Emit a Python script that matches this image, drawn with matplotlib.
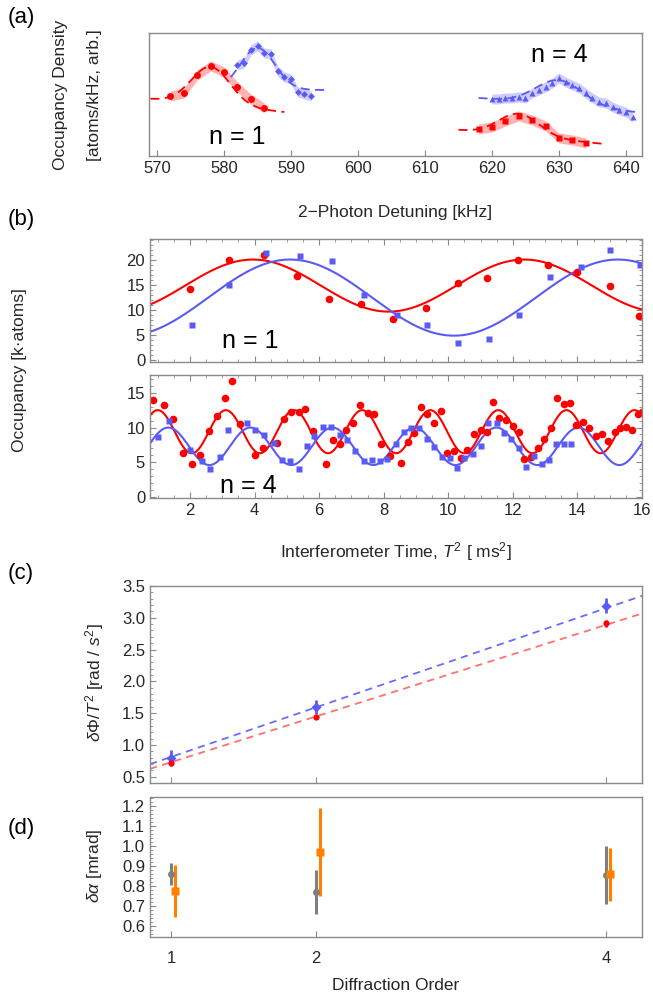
import numpy as np
import matplotlib.pyplot as plt
from matplotlib.ticker import MultipleLocator, NullFormatter

plt.rcParams['font.family'] = ['Liberation Sans', 'DejaVu Sans']
plt.rcParams['mathtext.fontset'] = 'custom'
plt.rcParams['mathtext.rm'] = 'Liberation Sans'
plt.rcParams['mathtext.it'] = 'Liberation Sans:italic'
plt.rcParams['mathtext.bf'] = 'Liberation Sans:bold'

RED = '#ff0000'
BLUE = '#5a5af5'
GRAY = '#7f7f7f'
ORANGE = '#ff8000'
FRAME = '#8a8a8a'
TXT = '#262626'

# ---- (a) spectroscopy, arbitrary units ----
a_red1_x = [572, 574, 576, 578, 580, 582, 584, 586]
a_red1_y = [60, 63, 81, 90, 84, 69, 57, 48]
a_blue1_x = [582, 583, 584, 585, 586, 587, 588, 589, 590, 591, 592, 593]
a_blue1_y = [91, 93, 106, 110, 103, 102, 85, 79, 77, 64, 62, 60]
a_red4_x = [618, 620, 622, 624, 626, 628, 630, 632, 634]
a_red4_y = [27, 29, 35, 40, 36, 30, 18, 16, 13]
a_blue4_x = list(range(620, 642))
a_blue4_y = [57, 57, 58, 58, 59, 58, 63, 66, 69, 73, 78, 74, 71, 68, 63, 58, 54, 53, 49, 46, 44, 39]
a_band = 5
# gaussian + sloped baseline fits: (start, stop, center, sigma, amp, base, slope)
a_fit_red1 = (569, 589, 578, 2.9, 38, 57, -0.65)
a_fit_blue1 = (581, 595, 585, 2.6, 42, 66, 0.0)
a_fit_red4 = (615, 637, 624, 3.0, 22, 26, -0.64)
a_fit_blue4 = (618, 642, 630, 3.5, 25, 58, -0.6)

# ---- (b) fringes ----
b1_red_t = [2.0, 3.2, 4.3, 5.3, 6.3, 7.3, 8.3, 9.3, 10.3, 11.2, 12.15, 13.1, 14.0, 15.0, 15.9]
b1_red_y = [14.2, 19.9, 21.0, 16.7, 12.2, 11.2, 8.1, 10.4, 15.3, 16.3, 20.0, 18.9, 17.5, 14.7, 8.7]
b1_blue_t = [2.05, 3.2, 4.35, 5.4, 6.4, 7.4, 8.4, 9.35, 10.3, 11.25, 12.2, 13.15, 14.1, 15.0, 15.95]
b1_blue_y = [7.0, 14.9, 21.3, 20.8, 19.8, 13.0, 9.0, 6.9, 3.3, 4.2, 8.9, 16.5, 18.5, 22.0, 18.9]

b4_red_t = [0.84, 1.2, 1.48, 1.79, 2.05, 2.31, 2.59, 2.85, 3.07, 3.31, 3.55, 4.02, 4.26, 4.69,
            4.9, 5.14, 5.36, 5.57, 5.81, 6.21, 6.43, 6.66, 6.84, 7.05, 7.28, 7.5, 7.71, 7.92,
            8.19, 8.54, 8.75, 8.94, 9.14, 9.35, 9.56, 9.76, 9.97, 10.18, 10.39, 10.59, 10.8,
            11.0, 11.21, 11.39, 11.57, 11.78, 11.99, 12.2, 12.35, 12.56, 12.77, 12.97, 13.18,
            13.37, 13.58, 13.78, 13.96, 14.16, 14.37, 14.58, 14.76, 14.96, 15.15, 15.33, 15.51,
            15.69, 15.87, 16.0]
b4_red_y = [13.9, 13.2, 11.2, 6.3, 4.7, 6.0, 9.5, 11.6, 14.2, 16.7, 10.5, 6.0, 7.1, 7.8,
            11.3, 12.2, 12.2, 12.6, 9.5, 4.7, 8.2, 7.7, 9.6, 10.6, 13.3, 12.1, 12.0, 7.6,
            5.9, 4.9, 7.9, 9.2, 12.9, 12.0, 10.7, 12.4, 6.3, 6.6, 5.6, 6.8, 9.0,
            9.7, 9.4, 13.7, 11.4, 11.1, 10.2, 9.3, 5.5, 5.8, 7.1, 8.4, 9.9,
            14.2, 13.4, 13.6, 10.3, 10.8, 9.9, 8.8, 9.1, 8.0, 9.4, 10.0, 10.1,
            9.6, 12.0, 12.2]
b4_blue_t = [1.02, 1.36, 2.0, 2.36, 2.62, 2.93, 3.19, 3.76, 4.02, 4.3, 4.59, 4.85, 5.1, 5.36,
             5.62, 5.85, 6.12, 6.37, 6.63, 6.86, 7.12, 7.38, 7.64, 7.88, 8.11, 8.37, 8.62,
             8.85, 9.09, 9.35, 9.56, 9.82, 10.06, 10.28, 10.49, 10.75, 11.0, 11.23, 11.5,
             11.71, 11.94, 12.2, 12.4, 12.66, 12.89, 13.13, 13.33, 13.57, 13.8]
b4_blue_y = [8.7, 11.0, 6.7, 5.2, 4.0, 5.7, 9.7, 10.6, 9.7, 8.9, 7.8, 5.3, 5.2, 4.1,
             7.3, 8.8, 10.1, 10.1, 8.9, 8.2, 6.6, 5.2, 5.4, 5.2, 5.5, 7.7, 9.4,
             10.0, 9.9, 8.4, 7.2, 5.8, 5.6, 4.2, 5.6, 6.2, 7.3, 10.7, 10.7,
             9.2, 8.3, 7.0, 4.3, 5.9, 4.7, 5.3, 7.7, 7.7, 7.7]
# sinusoid fits: (mean, amplitude, period, t of peak)
b1_fit_red = (14.8, 5.2, 8.4, 3.95)
b1_fit_blue = (12.4, 7.6, 10.15, 5.1)
b4_fit_red = (9.4, 3.1, 2.11, 1.0)
b4_fit_blue = (7.3, 2.7, 2.54, 1.33)

# ---- (c) phase slope vs order ----
orders = [1, 2, 4]
c_red = [0.72, 1.44, 2.91]
c_red_err = [0.03, 0.03, 0.05]
c_blue = [0.79, 1.60, 3.19]
c_blue_err = [0.13, 0.11, 0.12]
c_fit_red = (0.72, 0.007)
c_fit_blue = (0.78, 0.03)

# ---- (d) delta alpha ----
d_gray = [0.86, 0.77, 0.855]
d_gray_err = [0.055, 0.11, 0.145]
d_orange = [0.775, 0.97, 0.86]
d_orange_err = [0.13, 0.22, 0.133]
d_offset = 0.03

W, H = 653, 996
fig = plt.figure(figsize=(W / 100, H / 100), dpi=100)


def box(l, t, r, b):
    return [l / W, 1 - b / H, (r - l) / W, (b - t) / H]


def style(ax, top=False, right=False):
    for s in ax.spines.values():
        s.set_color(FRAME)
        s.set_linewidth(1.0)
    ax.tick_params(which='both', direction='in', colors=FRAME, labelcolor=TXT,
                   labelsize=12, top=top, right=right)
    ax.tick_params(which='major', length=4, width=0.8)
    ax.tick_params(which='minor', length=2, width=0.6)


def gauss_fit(p):
    x0, x1, c, s, a, b, k = p
    x = np.linspace(x0, x1, 200)
    return x, b + k * (x - x0) + a * np.exp(-(x - c) ** 2 / (2 * s ** 2))


def cos_fit(p, t):
    m, a, per, t0 = p
    return m + a * np.cos(2 * np.pi * (t - t0) / per)


# (a)
ax = fig.add_axes(box(149, 33, 642, 156))
style(ax)
for xs, ys, fit, col, mk, ms, balpha in [
        (a_red1_x, a_red1_y, a_fit_red1, RED, 'o', 5, 0.3),
        (a_blue1_x, a_blue1_y, a_fit_blue1, BLUE, 'D', 3.5, 0.3),
        (a_red4_x, a_red4_y, a_fit_red4, RED, 's', 4.5, 0.3),
        (a_blue4_x, a_blue4_y, a_fit_blue4, BLUE, '^', 4, 0.3)]:
    xs = np.array(xs)
    ys = np.array(ys)
    ax.fill_between(xs, ys - a_band, ys + a_band, color=col, alpha=balpha, lw=0)
    fx, fy = gauss_fit(fit)
    ax.plot(fx, fy, ls=(0, (5, 3)), color=col, lw=1.3)
    ax.plot(xs, ys, mk, color=col, ms=ms, mec='none')
ax.set_xlim(568.8, 642.4)
ax.set_ylim(0, 123)
ax.set_yticks([])
ax.set_xticks(range(570, 641, 10))
ax.text(582, 19, 'n = 1', fontsize=18, ha='center', va='center', color='black')
ax.text(630, 101, 'n = 4', fontsize=18, ha='center', va='center', color='black')
ax.set_xlabel('2\u2212Photon Detuning [kHz]', fontsize=12.5, color=TXT, labelpad=21)
fig.text(61 / W, 1 - 95 / H, 'Occupancy Density', rotation=90, fontsize=12.5,
         color=TXT, ha='center', va='center')
fig.text(94 / W, 1 - 95 / H, '[atoms/kHz, arb.]', rotation=90, fontsize=12.5,
         color=TXT, ha='center', va='center')

# (b) top, n = 1
tt = np.linspace(0.76, 16, 600)
ax1 = fig.add_axes(box(150, 239, 642, 362))
style(ax1, top=True, right=True)
ax1.plot(tt, cos_fit(b1_fit_red, tt), color=RED, lw=1.5)
ax1.plot(tt, cos_fit(b1_fit_blue, tt), color=BLUE, lw=1.5)
ax1.plot(b1_red_t, b1_red_y, 'o', color=RED, ms=5.5, mec='none')
ax1.plot(b1_blue_t, b1_blue_y, 's', color=BLUE, ms=5, mec='none')
ax1.set_xlim(0.76, 16)
ax1.set_ylim(-0.46, 24.1)
ax1.set_yticks([0, 5, 10, 15, 20])
ax1.xaxis.set_major_locator(MultipleLocator(2))
ax1.xaxis.set_minor_locator(MultipleLocator(0.5))
ax1.yaxis.set_minor_locator(MultipleLocator(1))
ax1.xaxis.set_major_formatter(NullFormatter())
ax1.text(3.86, 3.7, 'n = 1', fontsize=18, ha='center', va='center', color='black')

# (b) bottom, n = 4
ax2 = fig.add_axes(box(150, 375, 642, 498))
style(ax2, top=True, right=True)
ax2.plot(tt, cos_fit(b4_fit_red, tt), color=RED, lw=1.5)
ax2.plot(tt, cos_fit(b4_fit_blue, tt), color=BLUE, lw=1.5)
ax2.plot(b4_red_t, b4_red_y, 'o', color=RED, ms=5.5, mec='none')
ax2.plot(b4_blue_t, b4_blue_y, 's', color=BLUE, ms=5, mec='none')
ax2.set_xlim(0.76, 16)
ax2.set_ylim(-0.14, 17.56)
ax2.set_yticks([0, 5, 10, 15])
ax2.xaxis.set_major_locator(MultipleLocator(2))
ax2.xaxis.set_minor_locator(MultipleLocator(0.5))
ax2.yaxis.set_minor_locator(MultipleLocator(1))
ax2.text(3.8, 1.6, 'n = 4', fontsize=18, ha='center', va='center', color='black')
ax2.set_xlabel('Interferometer Time, $T^2$ [ ms$^2$]', fontsize=12.5, color=TXT, labelpad=16)
fig.text(20 / W, 1 - 370 / H, 'Occupancy [k\u00b7atoms]', rotation=90, fontsize=12.5,
         color=TXT, ha='center', va='center')

# (c)
axc = fig.add_axes(box(150, 586, 642, 783))
style(axc)
xx = np.linspace(0.855, 4.25, 50)
axc.plot(xx, c_fit_red[0] * xx + c_fit_red[1], ls=(0, (4, 3)), color='#ff7070', lw=1.3)
axc.plot(xx, c_fit_blue[0] * xx + c_fit_blue[1], ls=(0, (4, 3)), color='#6b6bff', lw=1.3)
axc.errorbar(orders, c_blue, yerr=c_blue_err, fmt='D', color=BLUE, ms=5, mec='none',
             elinewidth=2, capsize=0)
axc.errorbar(orders, c_red, yerr=c_red_err, fmt='o', color=RED, ms=4.5, mec='none',
             elinewidth=2, capsize=0)
axc.set_xlim(0.855, 4.25)
axc.set_ylim(0.4, 3.5)
axc.set_xticks(orders)
axc.xaxis.set_major_formatter(NullFormatter())
axc.yaxis.set_major_locator(MultipleLocator(0.5))
axc.yaxis.set_minor_locator(MultipleLocator(0.1))
axc.yaxis.set_major_formatter(plt.FormatStrFormatter('%.1f'))
fig.text(95 / W, 1 - 683 / H, r'$\delta\Phi/T^2$ [rad / $s^2$]', rotation=90, fontsize=12.5,
         color=TXT, ha='center', va='center')

# (d)
axd = fig.add_axes(box(150, 797, 642, 937))
style(axd)
axd.errorbar(orders, d_gray, yerr=d_gray_err, fmt='o', color=GRAY, ms=5, mec='none',
             elinewidth=2.2, capsize=0)
axd.errorbar(np.array(orders) + d_offset, d_orange, yerr=d_orange_err, fmt='s', color=ORANGE,
             ms=6, mec='none', elinewidth=2.2, capsize=0)
axd.set_xlim(0.855, 4.25)
axd.set_ylim(0.547, 1.247)
axd.set_xticks(orders)
axd.yaxis.set_major_locator(MultipleLocator(0.1))
axd.yaxis.set_minor_locator(MultipleLocator(0.02))
axd.yaxis.set_major_formatter(plt.FormatStrFormatter('%.1f'))
axd.tick_params(axis='x', pad=10)
axd.set_xlabel('Diffraction Order', fontsize=12.5, color=TXT, labelpad=9)
fig.text(95 / W, 1 - 866 / H, r'$\delta\alpha$ [mrad]', rotation=90, fontsize=12.5,
         color=TXT, ha='center', va='center')

for lab, y in [('(a)', 17), ('(b)', 220), ('(c)', 573), ('(d)', 828)]:
    fig.text(8 / W, 1 - y / H, lab, fontsize=16, color='black', ha='left', va='center')

fig.savefig('out.png', dpi=100)
